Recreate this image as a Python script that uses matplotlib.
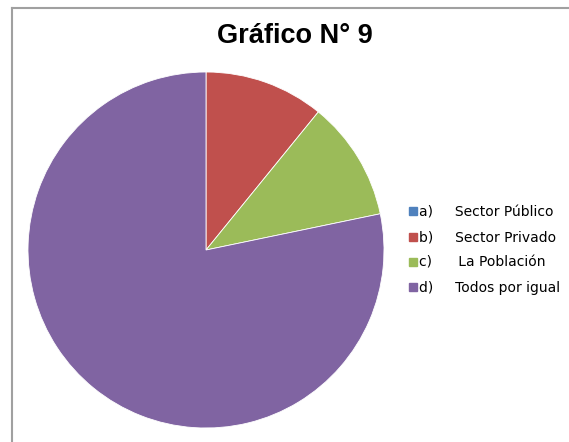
import matplotlib.pyplot as plt
from matplotlib.lines import Line2D

# data
letters = ["a)", "b)", "c)", "d)"]
categories = ["Sector Público", "Sector Privado", " La Población", "Todos por igual"]
values = [0, 5, 5, 36]
colors = ["#4F81BD", "#C0504D", "#9BBB59", "#8064A2"]

W, H = 569, 442
fig = plt.figure(figsize=(W / 100, H / 100), dpi=100)

# pie centred at (206, 250) px, radius 178 px
cx, cy, r = 206, 250, 178
ax = fig.add_axes([(cx - r) / W, (H - cy - r) / H, 2 * r / W, 2 * r / H])
wedges, _ = ax.pie(values, colors=colors, startangle=90, counterclock=False,
                   wedgeprops=dict(linewidth=0.6, edgecolor="white"))
ax.set_xlim(-1, 1)
ax.set_ylim(-1, 1)
ax.set_aspect("auto")
ax.axis("off")

fig.text(295 / W, 1 - 36 / H, "Gráfico N° 9", ha="center", va="center",
         fontsize=19.5, fontweight="bold", family="Liberation Sans")

labels = [f"{l}     {c}" for l, c in zip(letters, categories)]
handles = [Line2D([], [], marker="s", linestyle="none", markersize=6,
                  markerfacecolor=c, markeredgecolor=c) for c in colors]
fig.legend(handles, labels, loc="center left",
           bbox_to_anchor=(402 / W, 1 - 250 / H), frameon=False,
           prop=dict(family="DejaVu Sans", size=10), handlelength=0.6,
           handletextpad=0.1, labelspacing=0.8, borderpad=0)

# chart frame: left and top edges only
fig.add_artist(Line2D([12 / W, 12 / W], [0, 1 - 7.5 / H], color="#A0A0A0",
                      lw=1.5, transform=fig.transFigure))
fig.add_artist(Line2D([12 / W, 1], [1 - 7.5 / H, 1 - 7.5 / H], color="#A0A0A0",
                      lw=1.5, transform=fig.transFigure))

fig.savefig("out.png", dpi=100, facecolor="white")
